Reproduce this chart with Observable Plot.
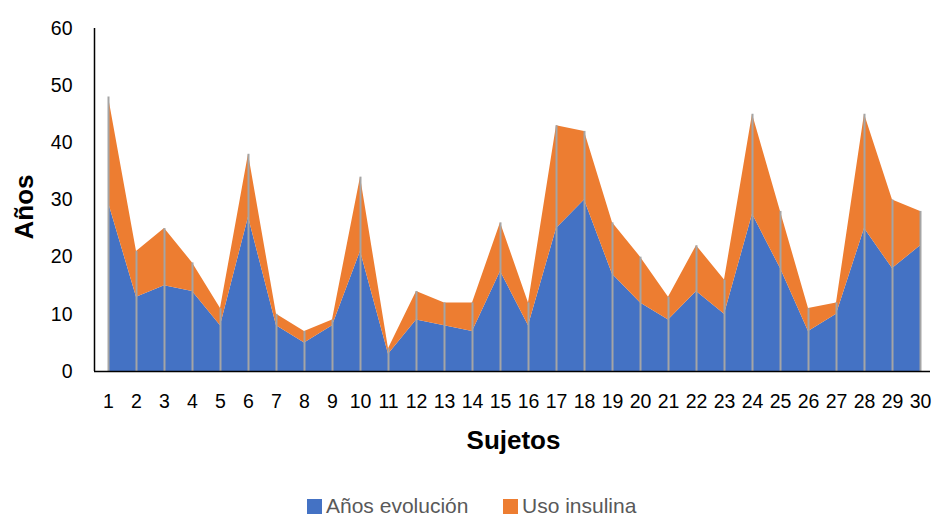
<!DOCTYPE html>
<html>
<head>
<meta charset="utf-8">
<script src="https://cdn.jsdelivr.net/npm/d3@7"></script>
<script src="https://cdn.jsdelivr.net/npm/@observablehq/plot@0.6"></script>
<style>
  body { margin: 0; background: #fff; font-family: "Liberation Sans", Arial, sans-serif; }
  #legend { position: relative; height: 22px; font-size: 21px; line-height: 22px; color: #595959; }
  .item { position: absolute; top: 0; display: flex; align-items: center; height: 22px; white-space: nowrap; }
  .sw { display: inline-block; width: 15px; height: 15px; margin-right: 4px; }
</style>
</head>
<body>
<div id="chart"></div>
<div id="legend"></div>
<script>
const sujetos = d3.range(1, 31);
const aniosEvolucion = [29.5, 13, 15, 14, 8, 27, 8, 5, 8, 21, 3, 9, 8, 7, 17.5, 8, 25, 30, 17, 12, 9, 14, 10, 27.5, 18, 7, 10, 25, 18, 22];
const totales =        [48, 21, 25, 19, 11, 38, 10, 7, 9, 34, 4, 14, 12, 12, 26, 12, 43, 42, 26, 20, 13, 22, 16, 45, 28, 11, 12, 45, 30, 28];
const usoInsulina = totales.map((t, i) => t - aniosEvolucion[i]);
const series = ["Años evolución", "Uso insulina"];
const colors = ["#4472C4", "#ED7D31"];
const yTicks = [0, 10, 20, 30, 40, 50, 60];

const data = [];
sujetos.forEach((s, i) => data.push({ sujeto: s, serie: series[0], valor: aniosEvolucion[i] }));
sujetos.forEach((s, i) => data.push({ sujeto: s, serie: series[1], valor: usoInsulina[i] }));
const tot = sujetos.map((s, i) => ({ sujeto: s, total: totales[i] }));

const chart = Plot.plot({
  width: 934,
  height: 495,
  marginLeft: 94,
  marginRight: 4,
  marginTop: 28,
  marginBottom: 124,
  style: { fontFamily: "'Liberation Sans', Arial, sans-serif", fontSize: "19.5px", color: "#000" },
  x: { domain: [0.5, 30.357], ticks: sujetos, tickFormat: d => String(d), tickSize: 0, tickPadding: 23, label: null },
  y: { domain: [0, 60], ticks: yTicks, tickSize: 0, tickPadding: 22, label: null },
  color: { domain: series, range: colors },
  marks: [
    Plot.areaY(data, { x: "sujeto", y: "valor", fill: "serie", order: series, curve: "linear" }),
    Plot.ruleX(tot, { x: "sujeto", y1: 0, y2: "total", stroke: "#a5a5a5", strokeWidth: 2 }),
    Plot.ruleY([0], { stroke: "#000", strokeWidth: 1.5 }),
    Plot.ruleX([0.5], { stroke: "#000", strokeWidth: 1.5 }),
    Plot.text(["Sujetos"], { frameAnchor: "bottom", textAnchor: "middle", lineAnchor: "middle", dy: 69, dx: 1, fontWeight: "bold", fontSize: 26, fill: "#000" }),
    Plot.text(["Años"], { frameAnchor: "left", textAnchor: "middle", lineAnchor: "middle", dx: -70, dy: 7, rotate: -90, fontWeight: "bold", fontSize: 26, fill: "#000" })
  ]
});
document.getElementById("chart").appendChild(chart);

const legend = document.getElementById("legend");
const legendX = [307, 503];
series.forEach((s, i) => {
  const it = document.createElement("span");
  it.className = "item";
  it.style.left = legendX[i] + "px";
  it.innerHTML = `<span class="sw" style="background:${colors[i]}"></span>${s}`;
  legend.appendChild(it);
});
</script>
</body>
</html>
